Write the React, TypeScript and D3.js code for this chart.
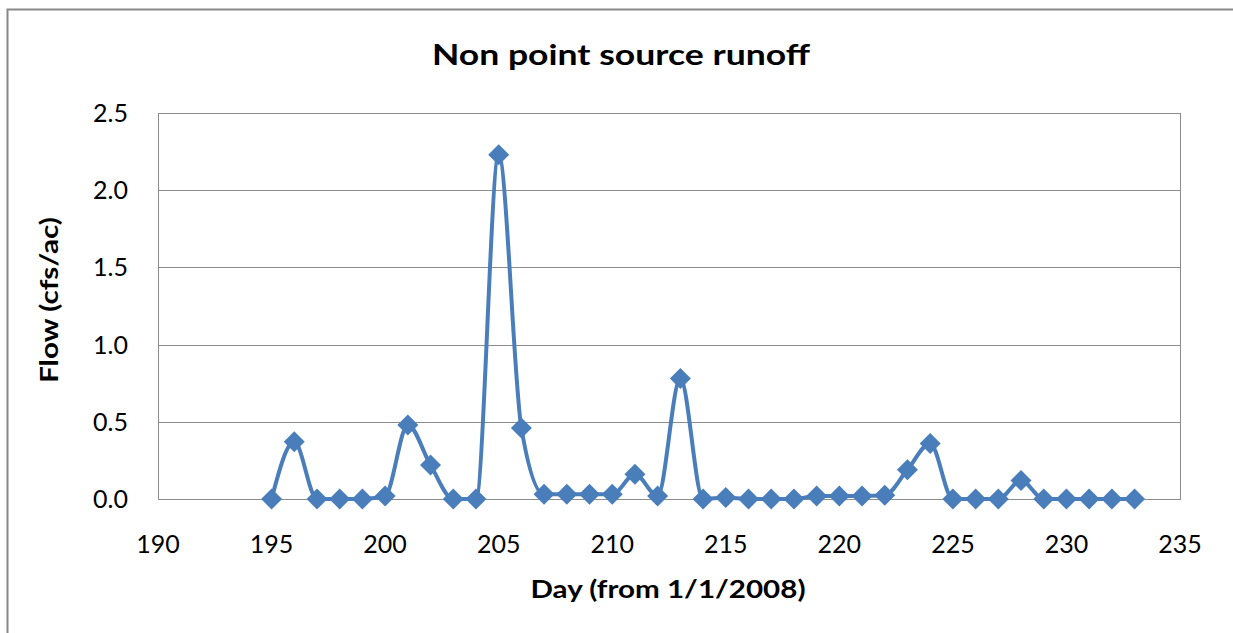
import React from "react";
import * as d3 from "d3";

const days = [195,196,197,198,199,200,201,202,203,204,205,206,207,208,209,210,211,212,213,214,215,216,217,218,219,220,221,222,223,224,225,226,227,228,229,230,231,232,233];
const flow = [0.0,0.37,0.0,0.0,0.0,0.02,0.48,0.22,0.0,0.0,2.23,0.46,0.03,0.03,0.03,0.03,0.16,0.02,0.78,0.0,0.01,0.0,0.0,0.0,0.02,0.02,0.02,0.025,0.19,0.36,0.0,0.0,0.0,0.12,0.0,0.0,0.0,0.0,0.0];
const xTicks = [190,195,200,205,210,215,220,225,230,235];
const yTicks = [0,0.5,1.0,1.5,2.0,2.5];

const W = 1233, H = 633;
const L = 158, R = 1180, T = 113, B = 499;
const FONT = "Lato, 'Open Sans', sans-serif";
const COLOR = "#4A7EBB";

export default function App() {
  const x = d3.scaleLinear().domain([190, 235]).range([L, R]);
  const y = d3.scaleLinear().domain([0, 2.5]).range([B, T]);
  const line = d3.line<number>()
    .x((_, i) => x(days[i]))
    .y((d) => y(d))
    .curve(d3.curveMonotoneX);
  const path = line(flow) || "";
  const dm = 10.5;
  return (
    <svg width={W} height={H} style={{ position: "absolute", left: 0, top: 0, background: "#fff" }}>
      <rect x={0} y={0} width={W} height={H} fill="#fff" />
      <rect x={7.5} y={9.5} width={W + 20} height={H + 20} fill="none" stroke="#888" strokeWidth={2} />
      {yTicks.slice(1).map((t) => (
        <line key={t} x1={L} x2={R} y1={Math.round(y(t)) + 0.5} y2={Math.round(y(t)) + 0.5} stroke="#8c8c8c" strokeWidth={1} />
      ))}
      <rect x={L + 0.5} y={T + 0.5} width={R - L} height={B - T} fill="none" stroke="#8c8c8c" strokeWidth={1} />
      {yTicks.map((t) => (
        <text key={t} x={128} y={y(t) + 9} textAnchor="end" fontFamily={FONT} fontSize={25} fill="#000">
          {t.toFixed(1)}
        </text>
      ))}
      {xTicks.map((t) => (
        <text key={t} x={x(t)} y={553} textAnchor="middle" fontFamily={FONT} fontSize={25} fill="#000">
          {t}
        </text>
      ))}
      <path d={path} fill="none" stroke={COLOR} strokeWidth={4} strokeLinejoin="round" />
      {flow.map((v, i) => {
        const cx = x(days[i]), cy = y(v);
        return (
          <path key={i} d={`M${cx},${cy - dm}L${cx + dm},${cy}L${cx},${cy + dm}L${cx - dm},${cy}Z`} fill={COLOR} />
        );
      })}
      <text x={621} y={65} textAnchor="middle" fontFamily={FONT} fontWeight="bold" fontSize={29} textLength={378} lengthAdjust="spacingAndGlyphs" fill="#000">
        Non point source runoff
      </text>
      <text x={668} y={598} textAnchor="middle" fontFamily={FONT} fontWeight="bold" fontSize={25} textLength={275} lengthAdjust="spacingAndGlyphs" fill="#000">
        Day (from 1/1/2008)
      </text>
      <text transform={`translate(58,300) rotate(-90)`} textAnchor="middle" fontFamily={FONT} fontWeight="bold" fontSize={25} textLength={166} lengthAdjust="spacingAndGlyphs" fill="#000">
        Flow (cfs/ac)
      </text>
    </svg>
  );
}
